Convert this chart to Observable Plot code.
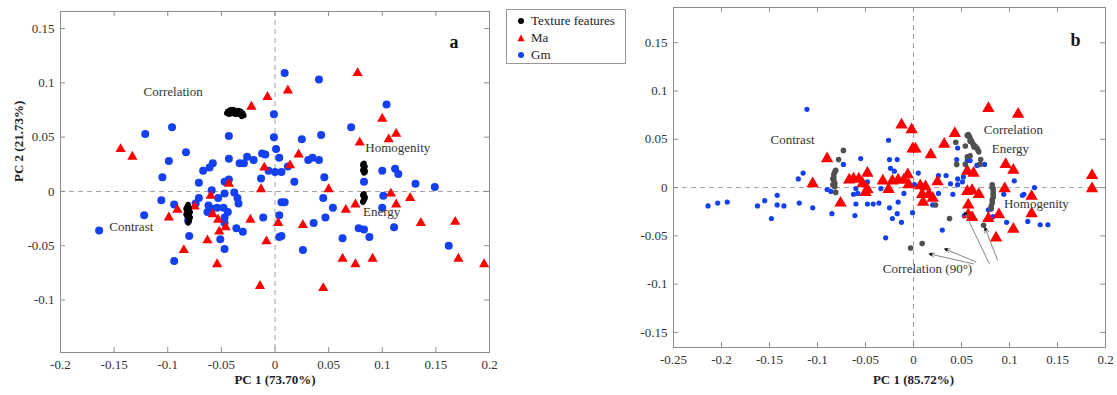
<!DOCTYPE html>
<html><head><meta charset="utf-8">
<script src="https://cdn.jsdelivr.net/npm/d3@7"></script>
<script src="https://cdn.jsdelivr.net/npm/@observablehq/plot@0.6"></script>
<style>
body{margin:0;background:#fff;}
#root{position:relative;width:1117px;height:395px;overflow:hidden;background:#fff;font-family:'Liberation Serif','Times New Roman',serif;}
#pa{position:absolute;left:0;top:0;}
#pb{position:absolute;left:620px;top:0;}
#legend{position:absolute;left:506px;top:9px;width:120px;height:55px;border:1px solid #999;background:#fff;box-sizing:border-box;}
.li{position:absolute;left:0;height:18px;display:flex;align-items:center;font-size:13px;color:#222;white-space:nowrap;}
.li svg{margin-left:10px;margin-right:6px;}
</style></head><body><div id="root"><div id="pa"></div><div id="legend"></div><div id="pb"></div></div>
<script>
// ---------- Panel a data (PC1, PC2) ----------
const gmA = [[-0.001,0.071],[-0.121,0.053],[-0.096,0.059],[-0.099,0.028],[-0.083,0.036],[-0.105,0.013],[-0.043,0.051],[-0.043,0.030],[-0.058,0.026],[-0.061,0.022],[-0.067,0.019],[-0.071,0.008],[-0.026,0.032],[-0.033,0.026],[-0.029,0.026],[-0.020,0.029],[-0.012,0.035],[-0.009,0.034],[-0.006,0.019],[0.000,0.018],[0.006,0.018],[-0.001,0.050],[0.001,0.039],[0.004,0.031],[-0.047,0.009],[-0.043,0.011],[-0.059,0.001],[-0.047,-0.002],[-0.038,-0.001],[-0.013,0.012],[0.018,0.009],[-0.106,-0.008],[-0.094,-0.012],[-0.081,-0.027],[-0.071,-0.006],[-0.074,-0.011],[-0.053,-0.006],[-0.035,-0.006],[-0.034,-0.011],[-0.062,-0.013],[-0.059,-0.016],[-0.054,-0.015],[-0.048,-0.015],[-0.063,-0.019],[-0.044,-0.019],[-0.047,-0.024],[-0.047,-0.029],[-0.036,-0.034],[-0.030,-0.037],[-0.011,-0.024],[-0.122,-0.022],[-0.164,-0.036],[-0.080,-0.041],[-0.051,-0.044],[-0.047,-0.053],[-0.094,-0.064],[0.004,-0.022],[0.004,-0.042],[0.006,-0.010],[0.009,-0.010],[0.009,0.109],[0.041,0.103],[0.104,0.080],[0.071,0.059],[0.043,0.052],[0.025,0.048],[0.031,0.029],[0.035,0.031],[0.041,0.029],[0.012,0.023],[0.046,0.013],[0.083,0.009],[0.100,0.019],[0.112,0.021],[0.115,0.016],[0.131,0.007],[0.149,0.004],[0.101,-0.004],[0.045,-0.006],[0.054,-0.015],[0.100,-0.015],[0.047,-0.024],[0.036,-0.029],[0.078,-0.034],[0.083,-0.035],[0.111,-0.033],[0.006,-0.041],[0.063,-0.043],[0.088,-0.042],[0.026,-0.054],[0.162,-0.050]];
const maA = [[-0.022,0.078],[-0.007,0.087],[0.012,0.093],[-0.144,0.039],[-0.133,0.032],[-0.010,0.022],[-0.043,0.007],[-0.013,0.002],[-0.091,-0.017],[-0.099,-0.024],[-0.075,-0.014],[-0.060,-0.004],[-0.058,-0.021],[-0.053,-0.026],[-0.046,-0.033],[-0.052,-0.037],[-0.023,-0.026],[-0.063,-0.045],[-0.008,-0.046],[-0.085,-0.054],[-0.054,-0.067],[-0.014,-0.087],[0.003,-0.029],[0.077,0.109],[0.100,0.067],[0.113,0.053],[0.106,0.048],[0.079,0.045],[0.022,0.034],[0.014,0.024],[0.050,0.002],[0.108,-0.002],[0.126,-0.006],[0.075,-0.012],[0.066,-0.017],[0.113,-0.012],[0.026,-0.031],[0.136,-0.029],[0.168,-0.028],[0.063,-0.062],[0.075,-0.067],[0.091,-0.062],[0.171,-0.062],[0.195,-0.067],[0.045,-0.089]];
const texA = [[-0.045,0.072],[-0.044,0.074],[-0.043,0.0735],[-0.042,0.075],[-0.041,0.0735],[-0.040,0.0755],[-0.039,0.074],[-0.038,0.075],[-0.037,0.0735],[-0.036,0.074],[-0.035,0.073],[-0.034,0.0745],[-0.033,0.073],[-0.032,0.074],[-0.031,0.0725],[-0.030,0.072],[-0.029,0.070],[-0.043,0.071],[-0.041,0.0715],[-0.040,0.072],[-0.038,0.0715],[-0.037,0.071],[-0.035,0.0715],[-0.034,0.071],[-0.032,0.071],[-0.031,0.069],
  [-0.081,-0.012],[-0.082,-0.014],[-0.080,-0.015],[-0.080,-0.016],[-0.082,-0.017],[-0.082,-0.018],[-0.081,-0.019],[-0.081,-0.020],[-0.080,-0.021],[-0.080,-0.022],[-0.082,-0.023],[-0.081,-0.024],[-0.081,-0.025],[-0.080,-0.026],[-0.080,-0.027],[-0.081,-0.028],[-0.081,-0.029],[-0.079,-0.019],[-0.083,-0.021],[-0.079,-0.024],[-0.083,-0.016],
  [0.083,0.026],[0.082,0.025],[0.082,0.024],[0.084,0.023],[0.083,0.022],[0.083,0.021],[0.082,0.020],[0.082,0.019],[0.084,0.019],[0.084,0.018],[0.083,0.017],
  [0.083,-0.002],[0.082,-0.003],[0.082,-0.004],[0.084,-0.005],[0.084,-0.006],[0.083,-0.007],[0.083,-0.008],[0.082,-0.009],[0.082,-0.010]];
const labelsA = [{t:"Correlation",x:-0.095,y:0.092},{t:"Homogenity",x:0.1145,y:0.040},{t:"Energy",x:0.0995,y:-0.019},{t:"Contrast",x:-0.134,y:-0.033}];
const xTicksA = [-0.2,-0.15,-0.1,-0.05,0,0.05,0.1,0.15,0.2];
const yTicksA = [-0.1,-0.05,0,0.05,0.1,0.15];

// ---------- Panel b data (PC1, PC2) ----------
const gmB = [[-0.111,0.081],[-0.073,0.024],[-0.055,0.030],[-0.115,0.015],[-0.120,0.009],[-0.048,0.006],[-0.090,-0.002],[-0.086,-0.004],[-0.060,-0.001],[-0.0625,-0.007],[-0.058,-0.006],[-0.214,-0.019],[-0.204,-0.016],[-0.194,-0.015],[-0.1625,-0.019],[-0.155,-0.0135],[-0.142,-0.008],[-0.142,-0.018],[-0.135,-0.019],[-0.148,-0.032],[-0.119,-0.016],[-0.105,-0.021],[-0.085,-0.027],[-0.060,-0.017],[-0.061,-0.029],[-0.026,0.049],[-0.025,0.029],[-0.017,0.029],[-0.024,0.020],[-0.020,0.017],[0.005,0.015],[-0.034,-0.001],[0.026,0.0125],[0.034,0.0125],[0.026,-0.006],[0.020,-0.018],[0.0385,0.004],[0.046,0.003],[0.051,0.006],[-0.048,-0.017],[-0.042,-0.017],[-0.036,-0.016],[-0.025,-0.021],[-0.016,-0.015],[-0.010,-0.006],[0.001,0.003],[-0.001,-0.026],[-0.022,-0.032],[-0.017,-0.027],[-0.0125,-0.036],[-0.029,-0.052],[0.030,-0.044],[0.041,-0.007],[0.046,0.041],[0.056,0.028],[0.059,0.028],[0.045,0.029],[0.074,0.024],[0.046,0.009],[0.105,0.007],[0.115,-0.007],[0.126,0.0],[0.094,-0.007],[0.053,-0.029],[0.083,-0.030],[0.078,-0.023],[0.097,-0.036],[0.119,-0.035],[0.132,-0.0385],[0.140,-0.0385],[0.1135,-0.008],[0.052,0.011],[0.066,0.023]];
const maB = [[0.078,0.082],[0.109,0.076],[-0.0125,0.065],[-0.002,0.060],[0.043,0.056],[0.032,0.045],[-0.001,0.040],[0.002,0.040],[0.018,0.034],[-0.090,0.030],[-0.105,0.004],[-0.067,0.008],[-0.0625,0.009],[-0.057,0.009],[-0.053,0.004],[-0.048,0.015],[-0.048,-0.002],[-0.032,0.007],[-0.022,0.007],[-0.016,0.008],[-0.010,0.008],[-0.006,0.0135],[-0.005,0.003],[-0.026,-0.002],[0.007,0.002],[0.0125,0.001],[0.025,0.006],[0.009,-0.007],[0.016,-0.007],[0.020,-0.011],[0.010,-0.015],[-0.076,-0.016],[-0.050,-0.005],[0.056,0.017],[0.0625,0.015],[0.056,-0.004],[0.061,-0.003],[0.068,-0.007],[0.057,-0.018],[0.057,-0.028],[0.061,-0.031],[0.078,-0.032],[0.089,-0.028],[0.104,-0.043],[0.086,-0.052],[0.123,-0.027],[0.123,-0.009],[0.095,-0.001],[0.096,0.024],[0.104,0.018],[0.186,0.0125],[0.186,-0.001]];
const texB = [[-0.073,0.0385],[-0.078,0.029],[-0.081,0.018],[-0.082,0.016],[-0.083,0.0135],[-0.083,0.0105],[-0.084,0.009],[-0.083,0.0075],[-0.082,0.0045],[-0.084,0.003],[-0.082,0.001],[-0.081,-0.005],
  [0.044,0.047],[0.054,0.043],[0.056,0.054],[0.057,0.055],[0.058,0.053],[0.059,0.051],[0.060,0.049],[0.061,0.047],[0.062,0.045],[0.064,0.043],[0.066,0.041],[0.067,0.039],[0.068,0.037],[0.059,0.048],[0.063,0.042],[0.056,0.032],[0.059,0.033],[0.070,0.029],[0.069,0.024],[0.045,0.024],[0.054,0.024],
  [0.082,0.003],[0.082,0.0],[0.083,-0.001],[0.083,-0.004],[0.083,-0.007],[0.083,-0.010],[0.082,-0.013],[0.082,-0.016],[0.081,-0.019],[0.081,-0.022],
  [0.023,-0.018],[0.0375,-0.032],[0.073,-0.039],[-0.003,-0.0625],[0.009,-0.058]];
const labelsB = [{t:"Contrast",x:-0.126,y:0.049},{t:"Correlation",x:0.104,y:0.060},{t:"Energy",x:0.101,y:0.040},{t:"Homogenity",x:0.128,y:-0.017},{t:"Correlation (90°)",x:0.0146,y:-0.084}];
const arrowsB = [{x1:0.065,y1:-0.077,x2:0.034,y2:-0.064},{x1:0.0625,y1:-0.079,x2:0.018,y2:-0.069},{x1:0.079,y1:-0.079,x2:0.054,y2:-0.027},{x1:0.0875,y1:-0.075,x2:0.075,y2:-0.043}];
const xTicksB = [-0.25,-0.2,-0.15,-0.1,-0.05,0,0.05,0.1,0.15,0.2];
const yTicksB = [-0.15,-0.1,-0.05,0,0.05,0.1,0.15];

const legendItems = ["Texture features","Ma","Gm"];

const BLUE = "#1440f0", RED = "#ff0000";
const FONT = "'Liberation Serif','Times New Roman',serif";

function panel(c) {
  const pw = c.width - c.ml - c.mr, ph = c.height - c.mt - c.mb;
  const line = "#8c8c8c";
  const X = d => d[0], Y = d => d[1];
  return Plot.plot({
    width: c.width, height: c.height,
    marginLeft: c.ml, marginRight: c.mr, marginTop: c.mt, marginBottom: c.mb,
    x: {domain: c.xDomain}, y: {domain: c.yDomain},
    style: {fontFamily: FONT, fontSize: "13px", color: "#333", background: "transparent", overflow: "visible"},
    marks: [
      Plot.ruleX([0], {stroke: "#a0a0a0", strokeDasharray: "5,4"}),
      Plot.ruleY([0], {stroke: "#a0a0a0", strokeDasharray: "5,4"}),
      Plot.frame({stroke: line}),
      Plot.tickX(c.xTicks, {x: d => d, insetBottom: ph - 5, stroke: line}),
      Plot.tickX(c.xTicks, {x: d => d, insetTop: ph - 5, stroke: line}),
      Plot.tickY(c.yTicks, {y: d => d, insetRight: pw - 5, stroke: line}),
      Plot.tickY(c.yTicks, {y: d => d, insetLeft: pw - 5, stroke: line}),
      Plot.axisX(c.xTicks, {tickSize: 0, tickPadding: 7, tickFormat: d => String(d), label: null, fill: "#333"}),
      Plot.axisY(c.yTicks, {tickSize: 0, tickPadding: 6, tickFormat: d => String(d), label: null, fill: "#333"}),
      Plot.dot(c.gm, {x: X, y: Y, r: c.gmR, fill: BLUE}),
      Plot.dot(c.ma, {x: X, y: Y, symbol: "triangle", r: c.maR, fill: RED}),
      Plot.dot(c.tex, {x: X, y: Y, r: c.texR, fill: c.texColor}),
      c.arrows ? Plot.arrow(c.arrows, {x1: "x1", y1: "y1", x2: "x2", y2: "y2", stroke: "#777", strokeWidth: 0.9, headLength: 7}) : null,
      c.arrows ? Plot.dot(c.arrows, {x: "x2", y: "y2", symbol: "triangle", r: 1.6, fill: "#111", rotate: d => 90 - Math.atan2((d.y2 - d.y1) * c.yScale, (d.x2 - d.x1)) * 180 / Math.PI}) : null,
      Plot.text(c.labels, {x: "x", y: "y", text: "t", fill: "#333", fontSize: 13}),
      Plot.text([c.letter], {frameAnchor: "top-right", dx: c.letterDx, dy: c.letterDy, fontWeight: "bold", fontSize: 18, fill: "#111"}),
      Plot.text([{t: c.xLabel, x: 0}], {x: "x", text: "t", frameAnchor: "bottom", dy: c.xLabelDy, fontWeight: "bold", fontSize: 13, fill: "#222"}),
      c.yLabel ? Plot.text([c.yLabel], {frameAnchor: "left", dx: -42, rotate: -90, fontWeight: "bold", fontSize: 13, fill: "#222"}) : null
    ]
  });
}

document.getElementById("pa").append(panel({
  width: 500, height: 395, ml: 60, mr: 11, mt: 11, mb: 43,
  xDomain: [-0.2, 0.2], yDomain: [-0.1483, 0.1657],
  xTicks: xTicksA, yTicks: yTicksA,
  gm: gmA, ma: maA, tex: texA, texColor: "#000",
  gmR: 4, maR: 3.8, texR: 2.7,
  labels: labelsA, letter: "a", letterDx: -31, letterDy: 24,
  xLabel: "PC 1 (73.70%)", xLabelDy: 31, yLabel: "PC 2 (21.73%)", yScale: 1
}));

document.getElementById("pb").append(panel({
  width: 497, height: 395, ml: 53, mr: 12, mt: 7, mb: 48,
  xDomain: [-0.25, 0.2], yDomain: [-0.1656, 0.1865],
  xTicks: xTicksB, yTicks: yTicksB,
  gm: gmB, ma: maB, tex: texB, texColor: "#505050",
  gmR: 2.6, maR: 4.6, texR: 2.8,
  labels: labelsB, letter: "b", letterDx: -25, letterDy: 26, arrows: arrowsB,
  xLabel: "PC 1 (85.72%)", xLabelDy: 36, yLabel: null, yScale: 1
}));

// legend
const lg = document.getElementById("legend");
const markers = [
  '<svg width="8" height="8"><circle cx="4" cy="4" r="3" fill="#000"/></svg>',
  '<svg width="8" height="8"><path d="M4,0.5L7.6,7.2L0.4,7.2Z" fill="' + RED + '"/></svg>',
  '<svg width="8" height="8"><circle cx="4" cy="4" r="3" fill="' + BLUE + '"/></svg>'
];
legendItems.forEach((name, i) => {
  const row = document.createElement("div");
  row.className = "li";
  row.style.top = (2 + i * 17) + "px";
  row.innerHTML = markers[i] + "<span>" + name + "</span>";
  lg.append(row);
});
</script></body></html>
